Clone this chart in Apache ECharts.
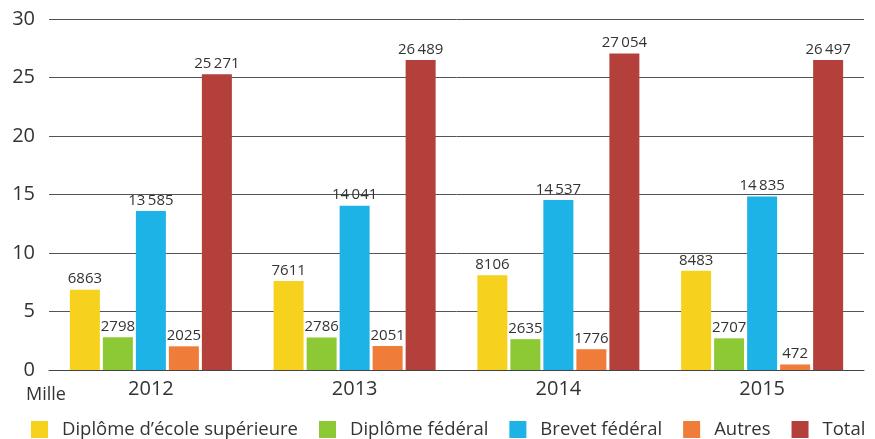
<!DOCTYPE html>
<html>
<head>
<meta charset="utf-8">
<script src="https://cdn.jsdelivr.net/npm/echarts@6/dist/echarts.min.js"></script>
<style>
  html, body { margin: 0; padding: 0; background: #fff; }
  #main { width: 875px; height: 439px; }
</style>
</head>
<body>
<div id="main"></div>
<script>
// données (valeurs brutes)
var years = ['2012', '2013', '2014', '2015'];
var seriesNames = ['Diplôme d’école supérieure', 'Diplôme fédéral', 'Brevet fédéral', 'Autres', 'Total'];
var ecoleSup = [6863, 7611, 8106, 8483];
var dipFederal = [2798, 2786, 2635, 2707];
var brevetFederal = [13585, 14041, 14537, 14835];
var autres = [2025, 2051, 1776, 472];
var total = [25271, 26489, 27054, 26497];
var yTicks = [0, 5, 10, 15, 20, 25, 30];

var colors = ['#f6d21e', '#8dc934', '#1db3e6', '#f07c3a', '#b3403a'];
var allValues = [ecoleSup, dipFederal, brevetFederal, autres, total];

var myChart = echarts.init(document.getElementById('main'));

function fmt(v) {
  var s = String(v);
  if (s.length > 4) s = s.slice(0, s.length - 3) + '\u2009' + s.slice(-3);
  return s;
}

var seriesData = [];
for (var i = 0; i < seriesNames.length; i++) {
  (function (vals) {
    seriesData.push({
      name: seriesNames[i],
      type: 'bar',
      barWidth: 30,
      barGap: '10%',
      itemStyle: { color: colors[i] },
      label: {
        show: true,
        position: 'top',
        distance: 3,
        color: '#333',
        fontSize: 15,
        fontFamily: 'Open Sans',
        formatter: function (p) { return fmt(vals[p.dataIndex]); }
      },
      data: vals.map(function (v) { return v / 1000; })
    });
  })(allValues[i]);
}

var option = {
  backgroundColor: '#fff',
  color: colors,
  animation: false,
  grid: { left: 49, right: 11, top: 19, bottom: 69 },
  legend: {
    left: 26,
    top: 415,
    itemWidth: 17,
    itemHeight: 17,
    itemGap: 21,
    icon: 'rect',
    textStyle: { fontSize: 18.5, color: '#333', fontFamily: 'Open Sans', padding: [0, 0, 0, 9] },
    data: seriesNames
  },
  xAxis: {
    type: 'category',
    data: years,
    axisTick: { show: false },
    axisLine: { lineStyle: { color: '#444', width: 1 } },
    axisLabel: { fontSize: 20, color: '#333', margin: 9, fontFamily: 'Open Sans' }
  },
  yAxis: {
    type: 'value',
    min: yTicks[0],
    max: yTicks[yTicks.length - 1],
    interval: 5,
    name: 'Mille',
    nameLocation: 'start',
    nameGap: 16,
    nameTextStyle: { fontSize: 18, color: '#333', fontFamily: 'Open Sans', align: 'center', padding: [0, 6, 0, 0] },
    axisLine: { show: false },
    axisTick: { show: false },
    axisLabel: { fontSize: 20, color: '#333', margin: 14, fontFamily: 'Open Sans' },
    splitLine: { lineStyle: { color: '#555', width: 1 } }
  },
  series: seriesData
};
myChart.setOption(option);
</script>
</body>
</html>
